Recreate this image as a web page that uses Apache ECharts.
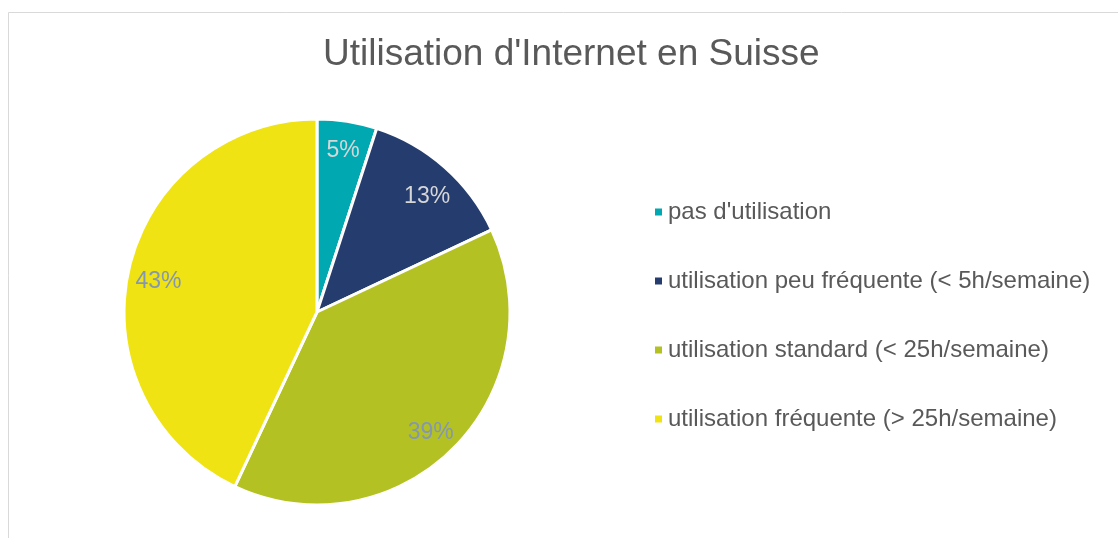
<!DOCTYPE html>
<html>
<head>
<meta charset="utf-8">
<script src="https://cdn.jsdelivr.net/npm/echarts@6/dist/echarts.min.js"></script>
<style>
  html, body { margin: 0; padding: 0; background: #fff; }
  #main { width: 1118px; height: 538px; }
</style>
</head>
<body>
<div id="main"></div>
<script>
// données
var categories = [
  "pas d'utilisation",
  'utilisation peu fréquente (< 5h/semaine)',
  'utilisation standard (< 25h/semaine)',
  'utilisation fréquente (> 25h/semaine)'
];
var values = [5, 13, 39, 43];

// style
var colors = ['#00a9b1', '#243d6e', '#b3c222', '#f0e313'];
var labelColors = ['#d6d6d6', '#d6d6d6', '#8497b0', '#8497b0'];
var labelNudge = [[0, 3], [0, 10], [-4, 3], [4, 6]]; // petit décalage des étiquettes

var chart = echarts.init(document.getElementById('main'));

var pieData = categories.map(function (name, i) {
  return { name: name, value: values[i] };
});
// anneau invisible, seulement pour placer les pourcentages plus loin du centre
var labelData = categories.map(function (name, i) {
  return {
    name: name,
    value: values[i],
    label: { color: labelColors[i], offset: labelNudge[i] }
  };
});

var option = {
  backgroundColor: '#fff',
  color: colors,
  title: {
    text: "Utilisation d'Internet en Suisse",
    left: 318,
    top: 31,
    textStyle: {
      fontFamily: 'Liberation Sans, Arial',
      fontSize: 37,
      fontWeight: 'normal',
      color: '#595959'
    }
  },
  legend: {
    orient: 'vertical',
    left: 648,
    top: 193,
    icon: 'rect',
    itemWidth: 9,
    itemHeight: 9,
    itemGap: 41,
    data: categories,
    textStyle: {
      fontFamily: 'Liberation Sans, Arial',
      fontSize: 24,
      lineHeight: 28,
      color: '#595959'
    }
  },
  graphic: [{
    type: 'rect',
    shape: { x: 8.5, y: 12.5, width: 1200, height: 600 },
    style: { fill: 'none', stroke: '#d9d9d9', lineWidth: 1 },
    silent: true
  }],
  series: [
    {
      type: 'pie',
      center: [317, 312],
      radius: 193,
      startAngle: 90,
      clockwise: true,
      label: { show: false },
      labelLine: { show: false },
      itemStyle: { borderColor: '#fff', borderWidth: 3 },
      emphasis: { disabled: true },
      data: pieData
    },
    {
      type: 'pie',
      center: [317, 312],
      radius: [134, 193],
      startAngle: 90,
      silent: true,
      legendHoverLink: false,
      itemStyle: { color: 'rgba(0,0,0,0)', borderWidth: 0 },
      label: {
        show: true,
        position: 'inside',
        formatter: '{c}%',
        fontFamily: 'Liberation Sans, Arial',
        fontSize: 23
      },
      labelLine: { show: false },
      data: labelData
    }
  ]
};
chart.setOption(option);
</script>
</body>
</html>
